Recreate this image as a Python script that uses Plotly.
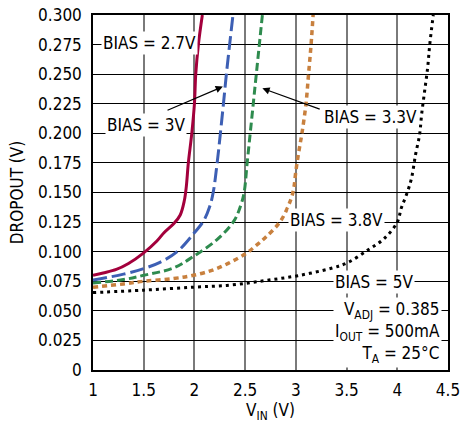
import plotly.graph_objects as go

# Data
bias27_x = [1.0, 1.1, 1.23, 1.35, 1.5, 1.63, 1.7, 1.8, 1.86, 1.9, 1.92, 1.94, 1.974, 2.0, 2.013, 2.039, 2.078]
bias27_y = [0.080, 0.082, 0.085, 0.090, 0.099, 0.109, 0.116, 0.124, 0.131, 0.143, 0.155, 0.175, 0.200, 0.225, 0.250, 0.275, 0.300]

bias3_x = [1.0, 1.3, 1.5, 1.66, 1.83, 1.99, 2.09, 2.15, 2.185, 2.224, 2.256, 2.286, 2.315, 2.347, 2.38]
bias3_y = [0.076, 0.081, 0.0857, 0.091, 0.100, 0.115, 0.126, 0.138, 0.150, 0.175, 0.200, 0.225, 0.250, 0.275, 0.300]

bias33_x = [1.0, 1.3, 1.5, 1.795, 1.99, 2.22, 2.39, 2.46, 2.49, 2.52, 2.55, 2.58, 2.61, 2.64, 2.67]
bias33_y = [0.0736, 0.0764, 0.080, 0.0863, 0.096, 0.110, 0.126, 0.140, 0.150, 0.175, 0.200, 0.225, 0.250, 0.275, 0.300]

bias38_x = [1.0, 1.3, 1.5, 1.795, 1.99, 2.22, 2.5, 2.605, 2.70, 2.85, 2.95, 2.98, 3.0, 3.03, 3.06, 3.1, 3.125, 3.15, 3.17]
bias38_y = [0.070, 0.0727, 0.075, 0.0773, 0.080, 0.0857, 0.098, 0.105, 0.112, 0.126, 0.144, 0.154, 0.168, 0.185, 0.200, 0.225, 0.250, 0.275, 0.300]

bias5_x = [1.0, 1.5, 1.99, 2.36, 2.69, 3.02, 3.35, 3.51, 3.71, 3.87, 4.0, 4.04, 4.09, 4.14, 4.18, 4.22, 4.24, 4.27, 4.30, 4.32, 4.355]
bias5_y = [0.0654, 0.0675, 0.070, 0.0718, 0.0755, 0.0797, 0.086, 0.0907, 0.1014, 0.111, 0.125, 0.137, 0.148, 0.162, 0.182, 0.199, 0.216, 0.236, 0.256, 0.275, 0.300]

x_ticks = [1, 1.5, 2, 2.5, 3, 3.5, 4, 4.5]
x_ticklabels = ["1", "1.5", "2", "2.5", "3", "3.5", "4", "4.5"]
y_ticks = [0, 0.025, 0.05, 0.075, 0.1, 0.125, 0.15, 0.175, 0.2, 0.225, 0.25, 0.275, 0.3]
y_ticklabels = ["0", "0.025", "0.050", "0.075", "0.100", "0.125", "0.150", "0.175",
                "0.200", "0.225", "0.250", "0.275", "0.300"]

FONT = "DejaVu Sans Condensed, Liberation Sans Narrow, sans-serif"

fig = go.Figure()
fig.add_trace(go.Scatter(x=bias5_x, y=bias5_y, mode="lines", line=dict(color="black", width=3, dash="3px,4px", shape="spline")))
fig.add_trace(go.Scatter(x=bias38_x, y=bias38_y, mode="lines", line=dict(color="#c8803e", width=3.5, dash="5px,4px", shape="spline")))
fig.add_trace(go.Scatter(x=bias33_x, y=bias33_y, mode="lines", line=dict(color="#2e8b4e", width=3, dash="8px,4px", shape="spline")))
fig.add_trace(go.Scatter(x=bias3_x, y=bias3_y, mode="lines", line=dict(color="#3d5fb4", width=3, dash="14px,5px", shape="spline")))
fig.add_trace(go.Scatter(x=bias27_x, y=bias27_y, mode="lines", line=dict(color="#a3003c", width=3, shape="spline")))

ann_font = dict(family=FONT, size=17, color="black")
annotations = [
    dict(x=1.555, y=0.276, text="BIAS = 2.7V", showarrow=False, bgcolor="white", font=ann_font),
    dict(x=1.52, y=0.207, text="BIAS = 3V", showarrow=False, bgcolor="white", font=ann_font),
    dict(x=3.74, y=0.214, text="BIAS = 3.3V", showarrow=False, bgcolor="white", font=ann_font),
    dict(x=3.396, y=0.127, text="BIAS = 3.8V", showarrow=False, bgcolor="white", font=ann_font),
    dict(x=3.77, y=0.0747, text="BIAS = 5V", showarrow=False, bgcolor="white", font=ann_font),
    dict(x=2.28, y=0.2395, ax=1.72, ay=0.219, axref="x", ayref="y", xref="x", yref="y",
         text="", showarrow=True, arrowhead=2, arrowsize=1.2, arrowwidth=1.2, arrowcolor="black"),
    dict(x=2.67, y=0.238, ax=3.25, ay=0.22, axref="x", ayref="y", xref="x", yref="y",
         text="", showarrow=True, arrowhead=2, arrowsize=1.2, arrowwidth=1.2, arrowcolor="black"),
    dict(x=4.44, y=0.0318, xanchor="right", align="right", showarrow=False, bgcolor="white", font=ann_font,
         text="V<sub>ADJ</sub> = 0.385<br>I<sub>OUT</sub> = 500mA<br>T<sub>A</sub> = 25°C"),
]

fig.update_layout(
    width=460, height=427,
    margin=dict(l=93, r=12, t=15, b=57),
    paper_bgcolor="white", plot_bgcolor="white",
    showlegend=False,
    font=dict(family=FONT, size=17, color="black"),
    annotations=annotations,
    xaxis=dict(range=[1, 4.5], tickvals=x_ticks, ticktext=x_ticklabels,
               automargin=False, ticklabelstandoff=4, ticklabeloverflow="allow",
               showgrid=True, gridcolor="#7a7a7a", gridwidth=1.5,
               showline=True, linecolor="black", linewidth=1.5, mirror=True,
               ticks="", zeroline=False,
               title=dict(text="V<sub>IN</sub> (V)", standoff=4, font=dict(size=17))),
    yaxis=dict(range=[0, 0.3], tickvals=y_ticks, ticktext=y_ticklabels,
               automargin=False, ticklabelstandoff=6, ticklabeloverflow="allow",
               showgrid=True, gridcolor="black", gridwidth=1,
               showline=True, linecolor="black", linewidth=1.5, mirror=True,
               ticks="", zeroline=False,
               title=dict(text="DROPOUT (V)", standoff=10, font=dict(size=17))),
)

fig.write_html("out.html", config={"displayModeBar": False},
               post_script="document.body.style.margin='0';")
